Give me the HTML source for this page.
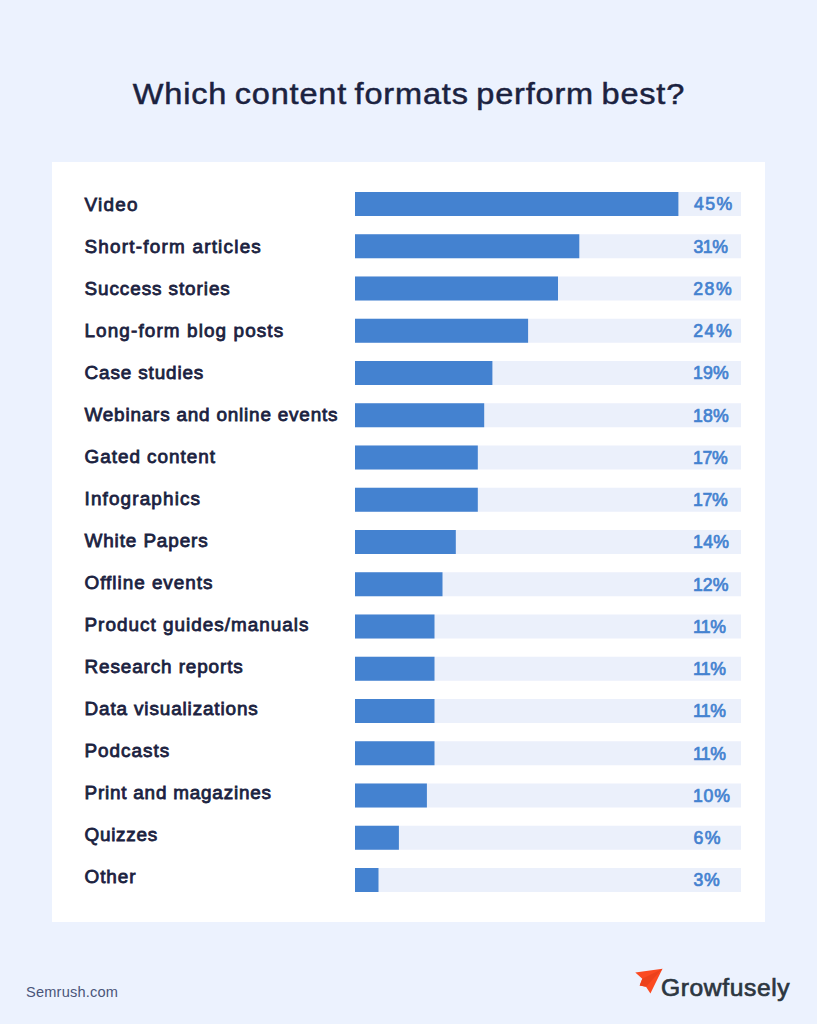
<!DOCTYPE html>
<html lang="en">
<head>
<meta charset="utf-8">
<title>Which content formats perform best?</title>
<style>
html,body{margin:0;padding:0;background:#ecf2fe}
body{width:817px;height:1024px;background:#ecf2fe;position:relative;overflow:hidden;font-family:"Liberation Sans",sans-serif}
h1{position:absolute;left:0px;top:73.5px;width:817px;margin:0;text-align:center;font-size:30px;line-height:40px;font-weight:400;color:#1b2240;white-space:nowrap;-webkit-text-stroke:0.5px #1b2240;letter-spacing:0.77px;text-indent:0.77px;word-spacing:-2.2px;transform:scaleX(1.083);transform-origin:408px 50%}
.card{position:absolute;left:52px;top:162px;width:713px;height:760px;background:#fff}
.lab{position:absolute;left:32.5px;height:24px;line-height:24px;font-size:18.9px;font-weight:400;-webkit-text-stroke:0.8px #1b2240;color:#1b2240;white-space:nowrap}
.bars{position:absolute;left:303px;top:0;width:386px;height:760px}
.pct{position:absolute;height:24px;line-height:24px;font-size:17.7px;font-weight:400;color:#4482d0;-webkit-text-stroke:0.7px #4482d0;white-space:nowrap;letter-spacing:1px}
.src{position:absolute;left:26px;top:981.7px;font-size:14.6px;line-height:20px;color:#4a5579;white-space:nowrap;letter-spacing:0.2px}
.logo{position:absolute;left:630px;top:960px;width:40px;height:40px}
.brand{position:absolute;left:661px;top:972.6px;font-size:24.6px;line-height:30px;color:#2c3640;white-space:nowrap;-webkit-text-stroke:0.7px #2c3640;letter-spacing:0.62px}
</style>
</head>
<body>
<h1>Which content formats perform best?</h1>
<div class="card">
<svg class="bars" width="386" height="760" viewBox="0 0 386 760">
<rect x="0" y="30.00" width="386" height="24" fill="#ebf0fb"/><rect x="0" y="30.00" width="323.4" height="24" fill="#4482d0"/>
<rect x="0" y="72.25" width="386" height="24" fill="#ebf0fb"/><rect x="0" y="72.25" width="224.3" height="24" fill="#4482d0"/>
<rect x="0" y="114.50" width="386" height="24" fill="#ebf0fb"/><rect x="0" y="114.50" width="203.0" height="24" fill="#4482d0"/>
<rect x="0" y="156.75" width="386" height="24" fill="#ebf0fb"/><rect x="0" y="156.75" width="173.1" height="24" fill="#4482d0"/>
<rect x="0" y="199.00" width="386" height="24" fill="#ebf0fb"/><rect x="0" y="199.00" width="137.4" height="24" fill="#4482d0"/>
<rect x="0" y="241.25" width="386" height="24" fill="#ebf0fb"/><rect x="0" y="241.25" width="129.2" height="24" fill="#4482d0"/>
<rect x="0" y="283.50" width="386" height="24" fill="#ebf0fb"/><rect x="0" y="283.50" width="122.8" height="24" fill="#4482d0"/>
<rect x="0" y="325.75" width="386" height="24" fill="#ebf0fb"/><rect x="0" y="325.75" width="122.8" height="24" fill="#4482d0"/>
<rect x="0" y="368.00" width="386" height="24" fill="#ebf0fb"/><rect x="0" y="368.00" width="100.8" height="24" fill="#4482d0"/>
<rect x="0" y="410.25" width="386" height="24" fill="#ebf0fb"/><rect x="0" y="410.25" width="87.5" height="24" fill="#4482d0"/>
<rect x="0" y="452.50" width="386" height="24" fill="#ebf0fb"/><rect x="0" y="452.50" width="79.5" height="24" fill="#4482d0"/>
<rect x="0" y="494.75" width="386" height="24" fill="#ebf0fb"/><rect x="0" y="494.75" width="79.5" height="24" fill="#4482d0"/>
<rect x="0" y="537.00" width="386" height="24" fill="#ebf0fb"/><rect x="0" y="537.00" width="79.5" height="24" fill="#4482d0"/>
<rect x="0" y="579.25" width="386" height="24" fill="#ebf0fb"/><rect x="0" y="579.25" width="79.5" height="24" fill="#4482d0"/>
<rect x="0" y="621.50" width="386" height="24" fill="#ebf0fb"/><rect x="0" y="621.50" width="71.9" height="24" fill="#4482d0"/>
<rect x="0" y="663.75" width="386" height="24" fill="#ebf0fb"/><rect x="0" y="663.75" width="43.9" height="24" fill="#4482d0"/>
<rect x="0" y="706.00" width="386" height="24" fill="#ebf0fb"/><rect x="0" y="706.00" width="23.5" height="24" fill="#4482d0"/>
</svg>
<div class="lab" style="top:30.50px;letter-spacing:1.250px">Video</div>
<div class="pct" style="top:30.30px;left:641.90px;letter-spacing:1.450px">45%</div>
<div class="lab" style="top:72.50px;letter-spacing:1.222px">Short-form articles</div>
<div class="pct" style="top:72.55px;left:641.40px;letter-spacing:-0.400px">31%</div>
<div class="lab" style="top:114.50px;letter-spacing:0.928px">Success stories</div>
<div class="pct" style="top:114.80px;left:641.20px;letter-spacing:1.600px">28%</div>
<div class="lab" style="top:156.50px;letter-spacing:1.116px">Long-form blog posts</div>
<div class="pct" style="top:157.05px;left:641.20px;letter-spacing:1.600px">24%</div>
<div class="lab" style="top:198.50px;letter-spacing:0.873px">Case studies</div>
<div class="pct" style="top:199.30px;left:640.90px;letter-spacing:0.250px">19%</div>
<div class="lab" style="top:240.50px;letter-spacing:0.808px">Webinars and online events</div>
<div class="pct" style="top:241.55px;left:640.90px;letter-spacing:0.250px">18%</div>
<div class="lab" style="top:282.50px;letter-spacing:0.983px">Gated content</div>
<div class="pct" style="top:283.80px;left:640.90px;letter-spacing:-0.300px">17%</div>
<div class="lab" style="top:324.50px;letter-spacing:1.145px">Infographics</div>
<div class="pct" style="top:326.05px;left:640.90px;letter-spacing:-0.300px">17%</div>
<div class="lab" style="top:366.50px;letter-spacing:0.891px">White Papers</div>
<div class="pct" style="top:368.30px;left:640.90px;letter-spacing:0.400px">14%</div>
<div class="lab" style="top:408.50px;letter-spacing:0.985px">Offline events</div>
<div class="pct" style="top:410.55px;left:640.90px;letter-spacing:0.100px">12%</div>
<div class="lab" style="top:450.50px;letter-spacing:1.010px">Product guides/manuals</div>
<div class="pct" style="top:452.80px;left:640.90px;letter-spacing:-0.550px">11%</div>
<div class="lab" style="top:492.50px;letter-spacing:0.893px">Research reports</div>
<div class="pct" style="top:495.05px;left:640.90px;letter-spacing:-0.550px">11%</div>
<div class="lab" style="top:534.50px;letter-spacing:0.877px">Data visualizations</div>
<div class="pct" style="top:537.30px;left:640.90px;letter-spacing:-0.550px">11%</div>
<div class="lab" style="top:576.50px;letter-spacing:1.000px">Podcasts</div>
<div class="pct" style="top:579.55px;left:640.90px;letter-spacing:-0.550px">11%</div>
<div class="lab" style="top:618.50px;letter-spacing:0.789px">Print and magazines</div>
<div class="pct" style="top:621.80px;left:640.90px;letter-spacing:0.850px">10%</div>
<div class="lab" style="top:660.50px;letter-spacing:0.734px">Quizzes</div>
<div class="pct" style="top:664.05px;left:641.40px;letter-spacing:1.600px">6%</div>
<div class="lab" style="top:702.50px;letter-spacing:0.950px">Other</div>
<div class="pct" style="top:706.30px;left:641.40px;letter-spacing:0.800px">3%</div>
</div>
<div class="src">Semrush.com</div>
<svg class="logo" viewBox="630 960 40 40">
<polygon points="635.3,972.5 662.5,968.8 650.4,993.5 646,986.8 639.7,985.4 642.3,978.8" fill="#fb4a21"/>
<polygon points="642.3,978.8 662.5,968.8 646,986.8 639.7,985.4" fill="#ec421c"/>
</svg>
<div class="brand">Growfusely</div>
</body>
</html>
